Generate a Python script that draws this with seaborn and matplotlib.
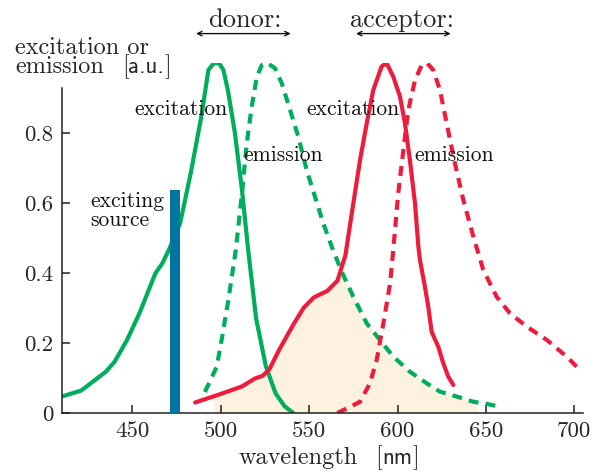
import numpy as np
import matplotlib
matplotlib.use("Agg")
import matplotlib.pyplot as plt
import seaborn as sns

# donor (green) excitation spectrum
don_exc_wl = [410, 421, 435, 440, 447, 454, 463, 467, 471, 477, 483, 489, 493, 496,
              499, 501.5, 504, 508, 512, 515.5, 520, 525.5, 531, 536, 541]
don_exc = [0.047, 0.064, 0.118, 0.147, 0.209, 0.285, 0.399, 0.428, 0.47, 0.542, 0.685,
           0.847, 0.98, 0.999, 1.0, 0.98, 0.923, 0.8, 0.637, 0.466, 0.27, 0.134, 0.056,
           0.02, 0.0]

# donor (green) emission spectrum
don_em_wl = [491, 497.7, 500.5, 504.3, 508.5, 512, 514.7, 517.5, 520.4, 523.2, 526.4,
             530.7, 534.5, 539.2, 543.9, 548.6, 553.3, 558, 562.8, 568.4, 575, 582.6,
             590, 597.6, 607, 616.5, 624, 633.5, 643, 650.5, 658]
don_em = [0.06, 0.132, 0.209, 0.323, 0.466, 0.628, 0.77, 0.875, 0.961, 0.994, 1.0,
          0.985, 0.942, 0.866, 0.789, 0.694, 0.618, 0.542, 0.475, 0.404, 0.332, 0.256,
          0.209, 0.161, 0.118, 0.085, 0.061, 0.047, 0.032, 0.026, 0.018]

# acceptor (red) excitation spectrum
acc_exc_wl = [485.5, 498.6, 512, 519.5, 523.6, 527.5, 533.3, 541, 546.8, 552.6, 560.3,
              566, 570.5, 575, 578.8, 582.6, 586.3, 591, 593.8, 597.6, 601.4, 604.2,
              607, 609.9, 611.8, 612.7, 615.5, 617.4, 619.3, 623.1, 625.9, 628.7, 631.6]
acc_exc = [0.03, 0.052, 0.076, 0.099, 0.106, 0.125, 0.183, 0.252, 0.3, 0.33, 0.349,
           0.378, 0.45, 0.599, 0.723, 0.828, 0.923, 0.99, 1.0, 0.961, 0.904, 0.828,
           0.723, 0.599, 0.475, 0.437, 0.361, 0.304, 0.232, 0.189, 0.142, 0.104, 0.08]

# acceptor (red) emission spectrum
acc_em_wl = [566, 571.3, 578.8, 584.4, 588.2, 592, 595.8, 597.6, 600.4, 603.3, 606.1,
             609.9, 613.7, 616.9, 620.2, 624, 627.8, 632.5, 637.2, 642.9, 648.5, 656.1,
             663.6, 673.1, 684.4, 695.7, 703.2]
acc_em = [0.0, 0.013, 0.032, 0.085, 0.151, 0.256, 0.37, 0.466, 0.628, 0.751, 0.866,
          0.951, 0.994, 0.999, 0.98, 0.923, 0.828, 0.713, 0.609, 0.504, 0.409, 0.332,
          0.285, 0.247, 0.209, 0.161, 0.123]

# exciting light source
source_wl = 474.2
source_height = 0.637
source_width = 6.0

# spectral overlap range (shaded)
overlap_range = (496, 645)

xticks = [450, 500, 550, 600, 650, 700]
yticks = [0, 0.2, 0.4, 0.6, 0.8]
ytick_labels = ["0", "0.2", "0.4", "0.6", "0.8"]

GREEN = "#00AD5C"
RED = "#EE1C3C"
BLUE = "#0075A2"
FILL = "#FDF1DF"

sns.set_theme(style="ticks")
plt.rcParams["font.family"] = ["cmr10", "DejaVu Serif"]
plt.rcParams["mathtext.fontset"] = "cm"
plt.rcParams["axes.unicode_minus"] = False
plt.rcParams["axes.formatter.use_mathtext"] = True

W, H = 594, 475
fig = plt.figure(figsize=(W / 100, H / 100), dpi=100)
ax = fig.add_axes([61.7 / W, 1 - 413 / H, (583.1 - 61.7) / W, 350 / H])

# shaded overlap between donor emission and acceptor excitation
grid = np.arange(overlap_range[0], overlap_range[1] + 0.25, 0.25)
overlap = np.minimum(np.interp(grid, don_em_wl, don_em, left=0),
                     np.interp(grid, acc_exc_wl, acc_exc, left=0))
ax.fill_between(grid, 0, overlap, color=FILL, lw=0, zorder=0.5)

dash = (0, (2.4, 1.7))
sns.lineplot(x=don_exc_wl, y=don_exc, ax=ax, color=GREEN, lw=3, sort=False)
sns.lineplot(x=don_em_wl, y=don_em, ax=ax, color=GREEN, lw=3, sort=False, linestyle=dash)
sns.lineplot(x=acc_exc_wl, y=acc_exc, ax=ax, color=RED, lw=3, sort=False)
sns.lineplot(x=acc_em_wl, y=acc_em, ax=ax, color=RED, lw=3, sort=False, linestyle=dash)

ax.bar([source_wl], [source_height], width=source_width, color=BLUE, zorder=3, lw=0)

ax.set_xlim(410, 705)
ax.set_ylim(0, 1.0)
ax.set_xticks(xticks)
ax.set_xticklabels([str(t) for t in xticks], fontsize=16.5)
ax.set_yticks(yticks)
ax.set_yticklabels(ytick_labels, fontsize=16.5)
ax.tick_params(direction="in", length=6, width=1.1, color="#222222", pad=6)
sns.despine(ax=ax)
ax.spines["left"].set_bounds(0, 0.93)
for s in ("left", "bottom"):
    ax.spines[s].set_linewidth(1.1)
    ax.spines[s].set_color("#222222")
ax.set_xlabel("")
ax.set_ylabel("")

lab = dict(fontsize=15.5, va="baseline", ha="left", color="#111111")
ax.text(451, 0.851, "excitation", **lab)
ax.text(512.6, 0.721, "emission", **lab)
ax.text(548.6, 0.851, "excitation", **lab)
ax.text(609.3, 0.721, "emission", **lab)
ax.text(426.1, 0.589, "exciting", **lab)
ax.text(426.1, 0.535, "source", **lab)

# donor / acceptor headers with double arrows
ax.text(492.8, 1.104, "donor:", fontsize=19, va="baseline", ha="left", clip_on=False)
ax.text(573.1, 1.104, "acceptor:", fontsize=19, va="baseline", ha="left", clip_on=False)
arrow = dict(arrowstyle="<->", lw=1.0, color="#111111", mutation_scale=8,
             shrinkA=0, shrinkB=0)
ax.annotate("", xy=(486.0, 1.084), xytext=(539.6, 1.084), arrowprops=arrow,
            annotation_clip=False)
ax.annotate("", xy=(576.5, 1.084), xytext=(630.1, 1.084), arrowprops=arrow,
            annotation_clip=False)


def px_text(x, y, s, sans=False, size=17.5):
    fam = ["cmss10", "DejaVu Sans"] if sans else ["cmr10", "DejaVu Serif"]
    fig.text(x / W, 1 - y / H, s, fontsize=size, va="baseline", ha="left", family=fam)


# axis titles (serif words, sans-serif units)
px_text(15, 53.5, "excitation or")
px_text(15, 73, "emission")
px_text(122, 73, "[")
px_text(128, 73, "a.u.", sans=True, size=16.5)
px_text(164, 73, "]")

px_text(239, 464, "wavelength")
px_text(375, 464, "[")
px_text(382.5, 464, "nm", sans=True, size=16.5)
px_text(412, 464, "]")

fig.savefig("out.png", dpi=100)
